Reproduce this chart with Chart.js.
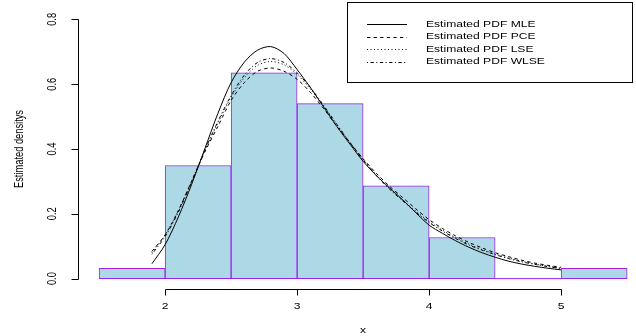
<!DOCTYPE html>
<html><head><meta charset="utf-8">
<script src="https://cdn.jsdelivr.net/npm/chart.js@4"></script>
<style>html,body{margin:0;padding:0;background:#fff;overflow:hidden}</style>
</head><body>
<canvas id="c" width="636" height="336"></canvas>
<script>
// ---- data ----
const binEdges = [1.5, 2, 2.5, 3, 3.5, 4, 4.5, 5, 5.5];
const densities = [0.0317, 0.349, 0.635, 0.540, 0.286, 0.127, 0, 0.0317];
const curveX = [1.9,2.0,2.1,2.2,2.3,2.4,2.5,2.6,2.7,2.8,2.9,3.0,3.1,3.2,3.3,3.4,3.5,3.6,3.7,3.8,3.9,4.0,4.1,4.2,4.3,4.4,4.5,4.6,4.7,4.8,4.9,5.0];
const pdfMLE  = [0.046,0.105,0.19,0.29,0.40,0.51,0.605,0.668,0.705,0.716,0.695,0.645,0.59,0.53,0.47,0.415,0.362,0.318,0.28,0.243,0.203,0.165,0.14,0.117,0.097,0.08,0.066,0.054,0.045,0.038,0.032,0.027];
const pdfPCE  = [0.084,0.135,0.21,0.30,0.39,0.47,0.55,0.605,0.64,0.65,0.64,0.615,0.575,0.525,0.47,0.42,0.37,0.325,0.285,0.25,0.215,0.182,0.155,0.132,0.112,0.095,0.08,0.068,0.057,0.048,0.041,0.035];
const pdfLSE  = [0.08,0.135,0.21,0.30,0.395,0.48,0.56,0.62,0.658,0.67,0.66,0.63,0.585,0.532,0.475,0.42,0.368,0.32,0.278,0.242,0.208,0.176,0.15,0.127,0.107,0.09,0.076,0.064,0.054,0.045,0.038,0.032];
const pdfWLSE = [0.075,0.13,0.205,0.297,0.395,0.485,0.565,0.628,0.667,0.679,0.667,0.635,0.59,0.535,0.477,0.42,0.366,0.318,0.276,0.24,0.205,0.173,0.147,0.124,0.104,0.088,0.074,0.062,0.052,0.044,0.037,0.031];
const seriesNames = ['Estimated PDF MLE','Estimated PDF PCE','Estimated PDF LSE','Estimated PDF WLSE'];
const xTicks = [2, 3, 4, 5];
const yTicks = [0, 0.2, 0.4, 0.6, 0.8];
const yTickLabels = ['0.0', '0.2', '0.4', '0.6', '0.8'];
const xTitle = 'x';
const yTitle = 'Estimated densitys';

// ---- styles ----
const dashes = [[], [3.3, 3.3], [1, 2.5], [1, 2.5, 3.3, 2.5]];
const FONT = '9.3px "Liberation Sans", Arial, sans-serif';
const SX = 1.3;

const histData = densities.map((d, i) => ({x: (binEdges[i] + binEdges[i+1]) / 2, y: d}));
const curves = [pdfMLE, pdfPCE, pdfLSE, pdfWLSE];
const lineSets = curves.map((arr, k) => ({
  type: 'line', label: seriesNames[k],
  data: curveX.map((x, i) => ({x: x, y: arr[i]})),
  borderColor: '#000', borderWidth: 1, borderDash: dashes[k],
  pointRadius: 0, tension: 0.3, fill: false, order: 0
}));

function txt(ctx, s, x, y, align, rot) {
  ctx.save();
  ctx.translate(x, y);
  ctx.scale(SX, 1);
  if (rot) ctx.rotate(-Math.PI / 2);
  ctx.textAlign = align; ctx.textBaseline = 'middle';
  ctx.fillText(s, 0, 0);
  ctx.restore();
}

const axesPlugin = {
  id: 'axes',
  afterDraw(chart) {
    const ctx = chart.ctx, xs = chart.scales.x, ys = chart.scales.y, a = chart.chartArea;
    ctx.save();
    ctx.strokeStyle = '#000'; ctx.fillStyle = '#000'; ctx.lineWidth = 1; ctx.setLineDash([]);
    ctx.font = FONT;
    // x axis
    const yb = Math.round(a.bottom) + 0.5;
    ctx.beginPath();
    ctx.moveTo(Math.round(xs.getPixelForValue(xTicks[0])) + 0.5, yb);
    ctx.lineTo(Math.round(xs.getPixelForValue(xTicks[xTicks.length-1])) + 0.5, yb);
    xTicks.forEach(t => { const px = Math.round(xs.getPixelForValue(t)) + 0.5; ctx.moveTo(px, yb); ctx.lineTo(px, yb + 6); });
    // y axis
    const xl = Math.round(a.left) + 0.5;
    ctx.moveTo(xl, Math.round(ys.getPixelForValue(yTicks[0])) + 0.5);
    ctx.lineTo(xl, Math.round(ys.getPixelForValue(yTicks[yTicks.length-1])) + 0.5);
    yTicks.forEach(t => { const py = Math.round(ys.getPixelForValue(t)) + 0.5; ctx.moveTo(xl, py); ctx.lineTo(xl - 7, py); });
    ctx.stroke();
    xTicks.forEach(t => txt(ctx, String(t), xs.getPixelForValue(t), 306, 'center', false));
    yTicks.forEach((t, i) => txt(ctx, yTickLabels[i], 53, ys.getPixelForValue(t), 'center', true));
    txt(ctx, xTitle, xs.getPixelForValue(3.5), 330, 'center', false);
    txt(ctx, yTitle, 20, (a.top + a.bottom) / 2, 'center', true);
    // legend
    ctx.strokeRect(347.5, 2.5, 285, 80);
    const rows = [24, 36.7, 49.3, 61.7];
    seriesNames.forEach((n, k) => {
      ctx.setLineDash(dashes[k]);
      ctx.beginPath(); ctx.moveTo(367, Math.round(rows[k]) + 0.5); ctx.lineTo(407, Math.round(rows[k]) + 0.5); ctx.stroke();
      ctx.setLineDash([]);
      txt(ctx, n, 426, rows[k], 'left', false);
    });
    ctx.restore();
  }
};

new Chart(document.getElementById('c'), {
  type: 'bar',
  data: {
    datasets: [
      {type: 'bar', data: histData, backgroundColor: '#ADD8E6', borderColor: '#A020F0', borderWidth: 1,
       borderSkipped: false, barPercentage: 1, categoryPercentage: 1, order: 10, grouped: false},
      {type: 'line', data: [{x: binEdges[6], y: 0}, {x: binEdges[7], y: 0}], borderColor: '#A020F0', borderWidth: 1, pointRadius: 0, order: 9},
      ...lineSets
    ]
  },
  options: {
    responsive: false, animation: false, devicePixelRatio: 1,
    layout: {padding: {left: 78, top: 9, right: 0, bottom: 47}},
    scales: {
      x: {type: 'linear', min: 1.34, max: 5.567, offset: false, display: false},
      y: {type: 'linear', min: -0.032, max: 0.832, display: false}
    },
    plugins: {legend: {display: false}, tooltip: {enabled: false}}
  },
  plugins: [axesPlugin]
});
</script>
</body></html>
